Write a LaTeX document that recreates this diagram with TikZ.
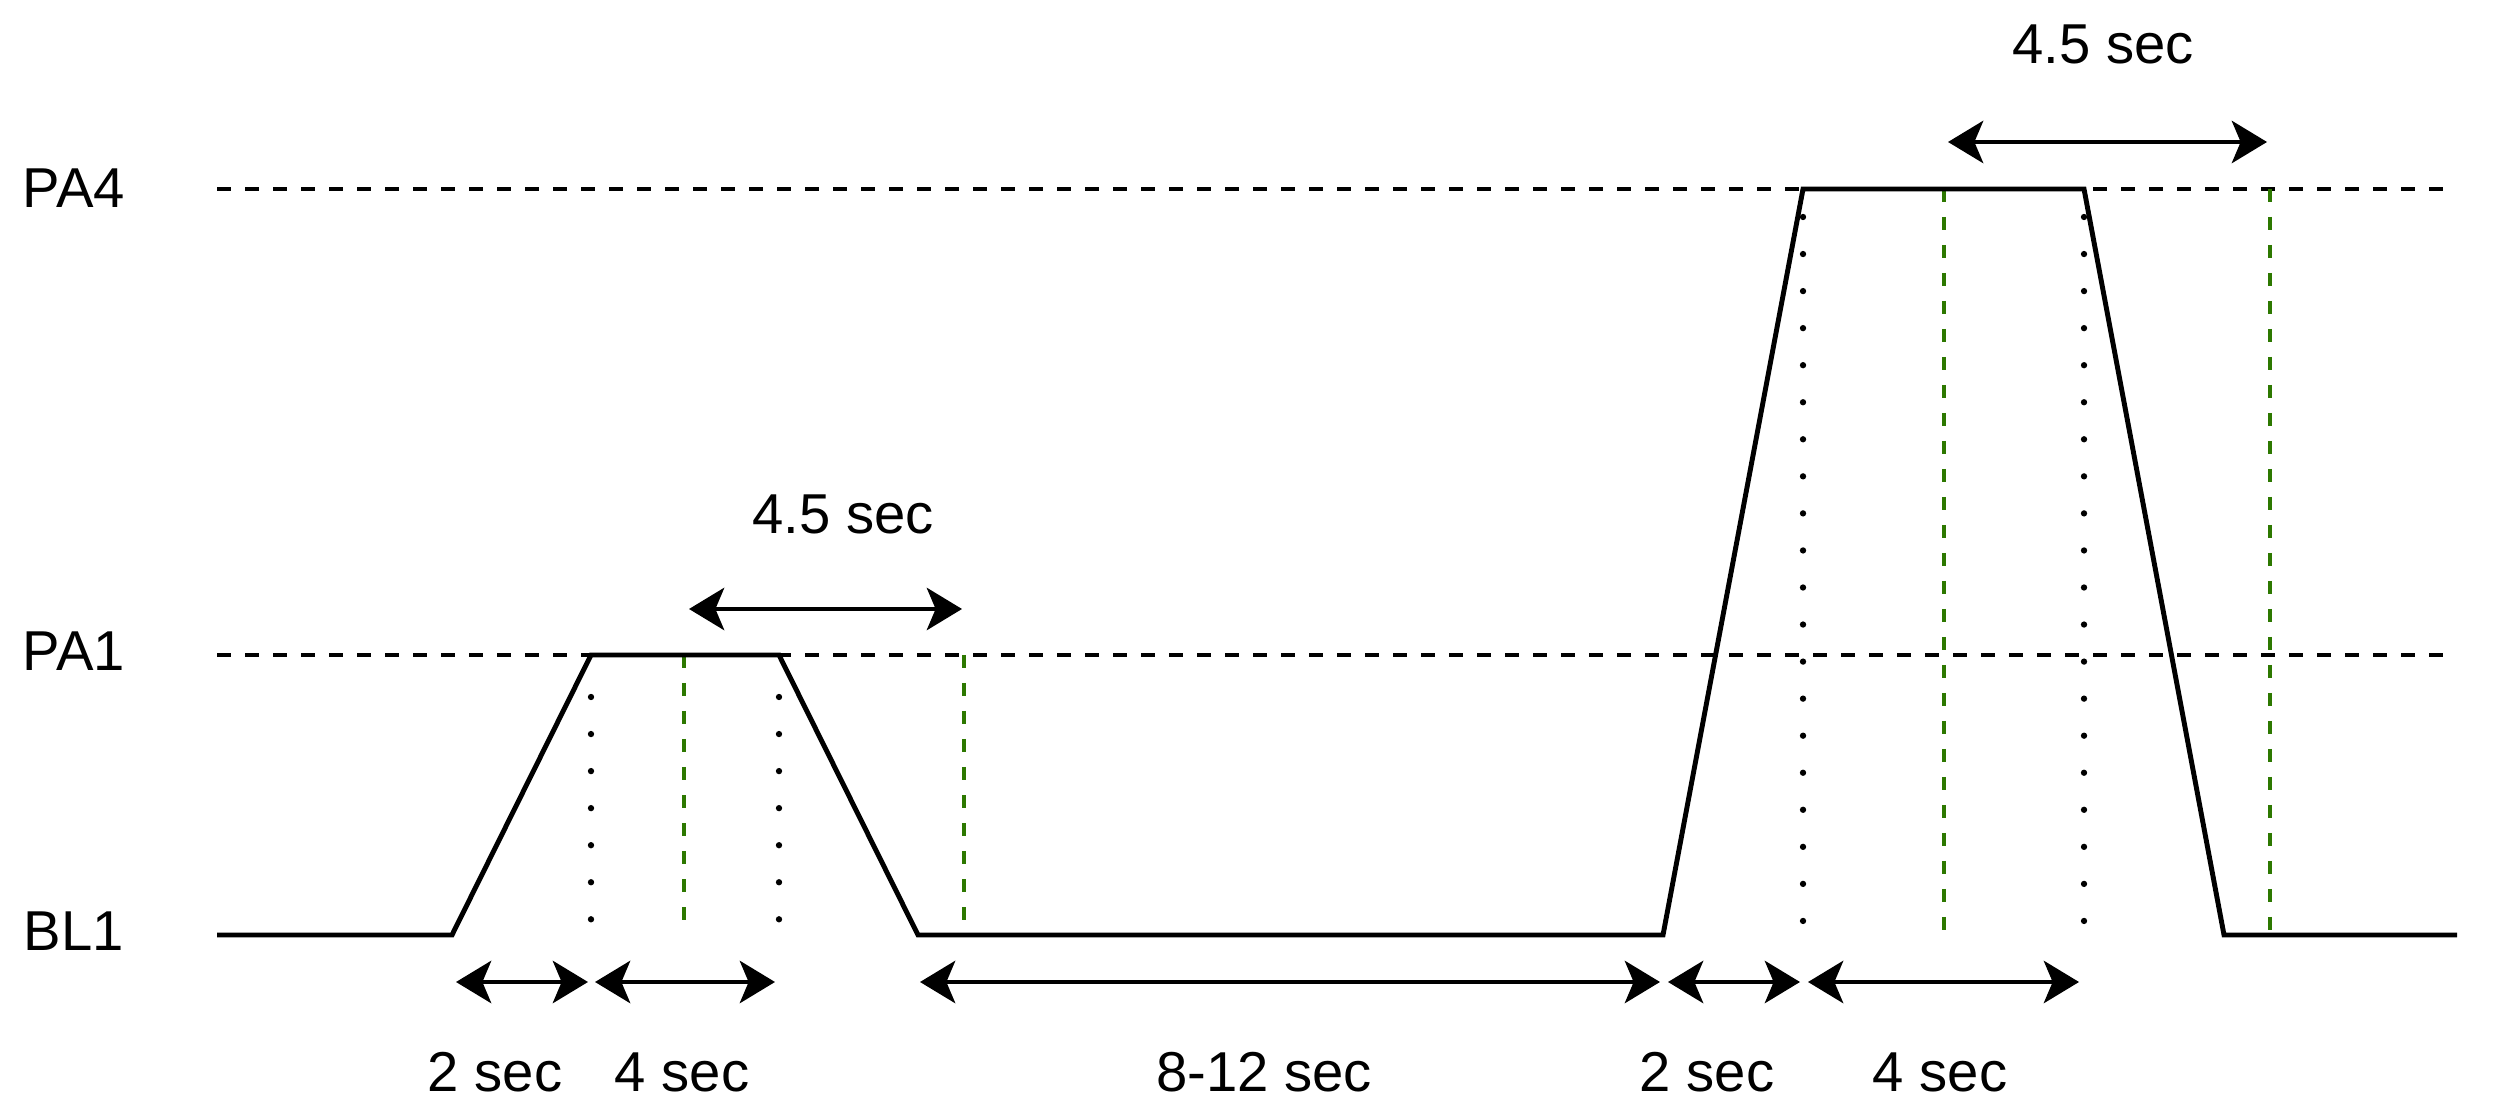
\documentclass[tikz,border=0pt]{standalone}
\usepackage{fontspec}
\setmainfont{Liberation Sans}
\usetikzlibrary{arrows.meta}
\definecolor{gdash}{RGB}{45,120,0}
\begin{document}
\begin{tikzpicture}[
  x=1cm,y=1cm,
  lbl/.style={font=\fontsize{16}{19}\selectfont, inner sep=0pt},
  sig/.style={line width=1.4pt, line join=miter},
  level/.style={line width=1.2pt, dash pattern=on 0.14cm off 0.14cm},
  marker/.style={draw=gdash, line width=1pt, dash pattern=on 0.13cm off 0.15cm},
  dotline/.style={line width=1.8pt, line cap=round, dash pattern=on 0pt off 0.3705cm},
  span/.style={line width=1.4pt, {Stealth[length=10pt,width=12pt,inset=2.5pt]}-{Stealth[length=10pt,width=12pt,inset=2.5pt]}},
]
\useasboundingbox (0,0) rectangle (24.95,11.17);

% level labels
\node[lbl] (pa4) at (0.74,9.29) {PA4};
\node[lbl] (pa1) at (0.74,4.66) {PA1};
\node[lbl] (bl1) at (0.74,1.86) {BL1};

% level lines
\coordinate (pa4s) at (2.17,9.28);
\coordinate (pa4e) at (24.55,9.28);
\coordinate (pa1s) at (2.17,4.62);
\coordinate (pa1e) at (24.55,4.62);
\draw[level] (pa4s) -- (pa4e);
\draw[level] (pa1s) -- (pa1e);

% signal points
\coordinate (s0) at (2.17,1.82);
\coordinate (s1) at (4.52,1.82);
\coordinate (s2) at (5.91,4.62);
\coordinate (s3) at (7.79,4.62);
\coordinate (s4) at (9.18,1.82);
\coordinate (s5) at (16.63,1.82);
\coordinate (s6) at (18.03,9.28);
\coordinate (s7) at (20.84,9.28);
\coordinate (s8) at (22.24,1.82);
\coordinate (s9) at (24.57,1.82);

% dotted guides
\coordinate (d1t) at (5.91,4.20);  \coordinate (d1b) at (5.91,1.96);
\coordinate (d2t) at (7.79,4.20);  \coordinate (d2b) at (7.79,1.96);
\coordinate (d3t) at (18.03,9.00); \coordinate (d3b) at (18.03,1.96);
\coordinate (d4t) at (20.84,9.00); \coordinate (d4b) at (20.84,1.96);
\draw[dotline] (d1t) -- (d1b);
\draw[dotline] (d2t) -- (d2b);
\draw[dotline] (d3t) -- (d3b);
\draw[dotline] (d4t) -- (d4b);

% green markers
\coordinate (g1t) at (6.84,4.62);  \coordinate (g1b) at (6.84,1.92);
\coordinate (g2t) at (9.64,4.62);  \coordinate (g2b) at (9.64,1.92);
\coordinate (g3t) at (19.44,9.28); \coordinate (g3b) at (19.44,1.82);
\coordinate (g4t) at (22.70,9.28); \coordinate (g4b) at (22.70,1.82);
\draw[marker] (g1t) -- (g1b);
\draw[marker] (g2t) -- (g2b);
\draw[marker] (g3t) -- (g3b);
\draw[marker] (g4t) -- (g4b);

% signal
\draw[sig] (s0) -- (s1) -- (s2) -- (s3) -- (s4) -- (s5) -- (s6) -- (s7) -- (s8) -- (s9);

% top spans
\coordinate (ta1) at (6.89,5.08);  \coordinate (ta2) at (9.62,5.08);
\coordinate (tb1) at (19.48,9.75); \coordinate (tb2) at (22.67,9.75);
\draw[span] (ta1) -- (ta2);
\draw[span] (tb1) -- (tb2);
\node[lbl] (lta) at (8.43,6.03) {4.5 sec};
\node[lbl] (ltb) at (21.03,10.73) {4.5 sec};

% bottom spans
\coordinate (b1) at (4.56,1.35);
\coordinate (b2) at (5.88,1.35);
\coordinate (b3) at (5.95,1.35);
\coordinate (b4) at (7.75,1.35);
\coordinate (b5) at (9.20,1.35);
\coordinate (b6) at (16.60,1.35);
\coordinate (b7) at (16.68,1.35);
\coordinate (b8) at (18.00,1.35);
\coordinate (b9) at (18.08,1.35);
\coordinate (b10) at (20.79,1.35);
\draw[span] (b1) -- (b2);
\draw[span] (b3) -- (b4);
\draw[span] (b5) -- (b6);
\draw[span] (b7) -- (b8);
\draw[span] (b9) -- (b10);
\node[lbl] (l1) at (4.95,0.45) {2 sec};
\node[lbl] (l2) at (6.82,0.45) {4 sec};
\node[lbl] (l3) at (12.64,0.45) {8-12 sec};
\node[lbl] (l4) at (17.07,0.45) {2 sec};
\node[lbl] (l5) at (19.40,0.45) {4 sec};
\end{tikzpicture}
\end{document}
